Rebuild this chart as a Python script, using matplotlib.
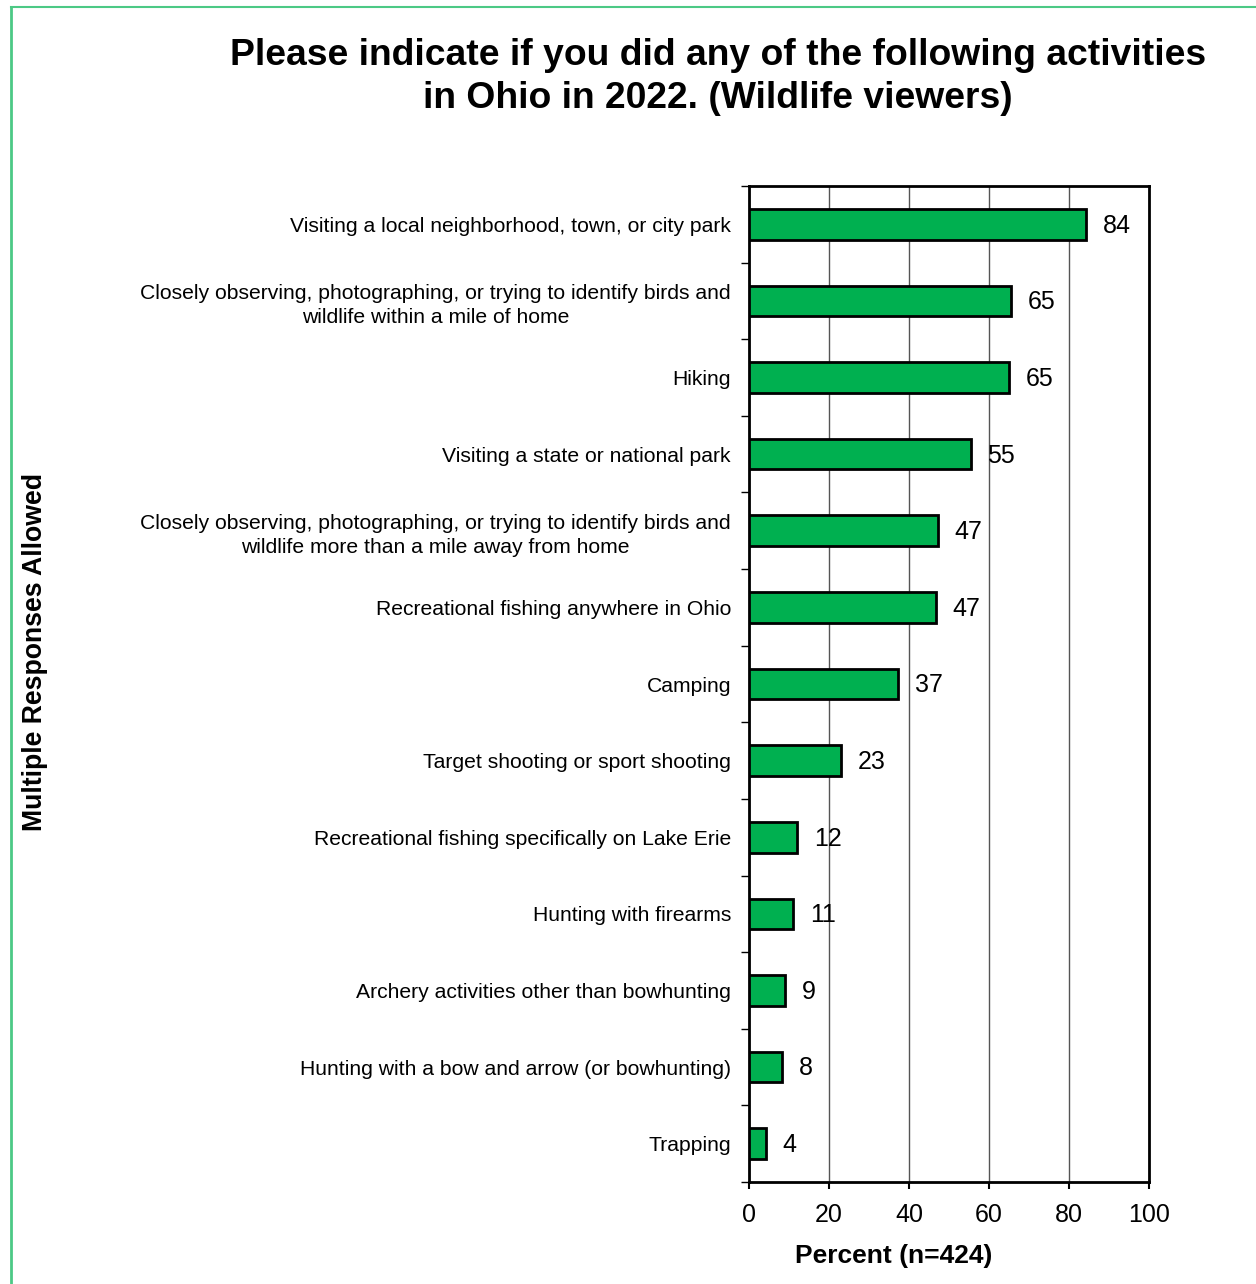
import matplotlib
matplotlib.use("Agg")
import matplotlib.pyplot as plt
from matplotlib.lines import Line2D

plt.rcParams['font.family'] = ['Liberation Sans', 'DejaVu Sans']

# activities, top to bottom
activities = [
    "Visiting a local neighborhood, town, or city park",
    "Closely observing, photographing, or trying to identify birds and\nwildlife within a mile of home",
    "Hiking",
    "Visiting a state or national park",
    "Closely observing, photographing, or trying to identify birds and\nwildlife more than a mile away from home",
    "Recreational fishing anywhere in Ohio",
    "Camping",
    "Target shooting or sport shooting",
    "Recreational fishing specifically on Lake Erie",
    "Hunting with firearms",
    "Archery activities other than bowhunting",
    "Hunting with a bow and arrow (or bowhunting)",
    "Trapping",
]
percents = [84.3, 65.4, 65.0, 55.4, 47.3, 46.8, 37.3, 23.0, 12.0, 11.0, 9.0, 8.3, 4.3]
xticks = [0, 20, 40, 60, 80, 100]

fig = plt.figure(figsize=(12.56, 12.84), dpi=100)
ax = fig.add_axes([749/1256, 1-1182/1284, 400/1256, 996/1284])

n = len(activities)
ypos = list(range(n))
ax.barh(ypos, percents, height=0.4, color='#00b050', edgecolor='black', linewidth=2, zorder=3)

for y, v in zip(ypos, percents):
    ax.annotate(f"{v:.0f}", xy=(v, y), xytext=(12, -1), textcoords='offset points',
                va='center', ha='left', fontsize=18, zorder=4)

ax.set_xlim(0, 100)
ax.set_ylim(n - 0.5, -0.5)
ax.set_xticks(xticks)
ax.set_xticklabels([str(t) for t in xticks], fontsize=18)
ax.xaxis.grid(True, color='#555555', linewidth=1)
ax.set_axisbelow(True)

# category labels sit between boundary ticks
ax.set_yticks(ypos)
ax.set_yticklabels(activities, fontsize=15.2, multialignment='center', linespacing=1.32)
ax.tick_params(axis='y', length=0, pad=13)
ax.set_yticks([i - 0.5 for i in range(n + 1)], minor=True)
ax.tick_params(axis='y', which='minor', length=6, width=1, direction='out')
ax.tick_params(axis='x', length=5, width=1.5, direction='out', pad=10)

for s in ax.spines.values():
    s.set_linewidth(2)

fig.text(894/1256, 1-1256/1284, "Percent (n=424)", ha='center', va='center',
         fontsize=19, fontweight='bold')
fig.text(35/1256, 1-652/1284, "Multiple Responses Allowed", ha='center', va='center',
         rotation=90, fontsize=19.2, fontweight='bold')
fig.text(718/1256, 1-77/1284,
         "Please indicate if you did any of the following activities\nin Ohio in 2022. (Wildlife viewers)",
         ha='center', va='center', fontsize=26.8, fontweight='bold', linespacing=1.3)

# green frame around the chart
frame = '#4cc985'
fig.add_artist(Line2D([11/1256, 11/1256], [0, 1-7/1284], color=frame, linewidth=2,
                      transform=fig.transFigure))
fig.add_artist(Line2D([11/1256, 1], [1-7/1284, 1-7/1284], color=frame, linewidth=1.5,
                      transform=fig.transFigure))

fig.savefig("out.png", dpi=100)
